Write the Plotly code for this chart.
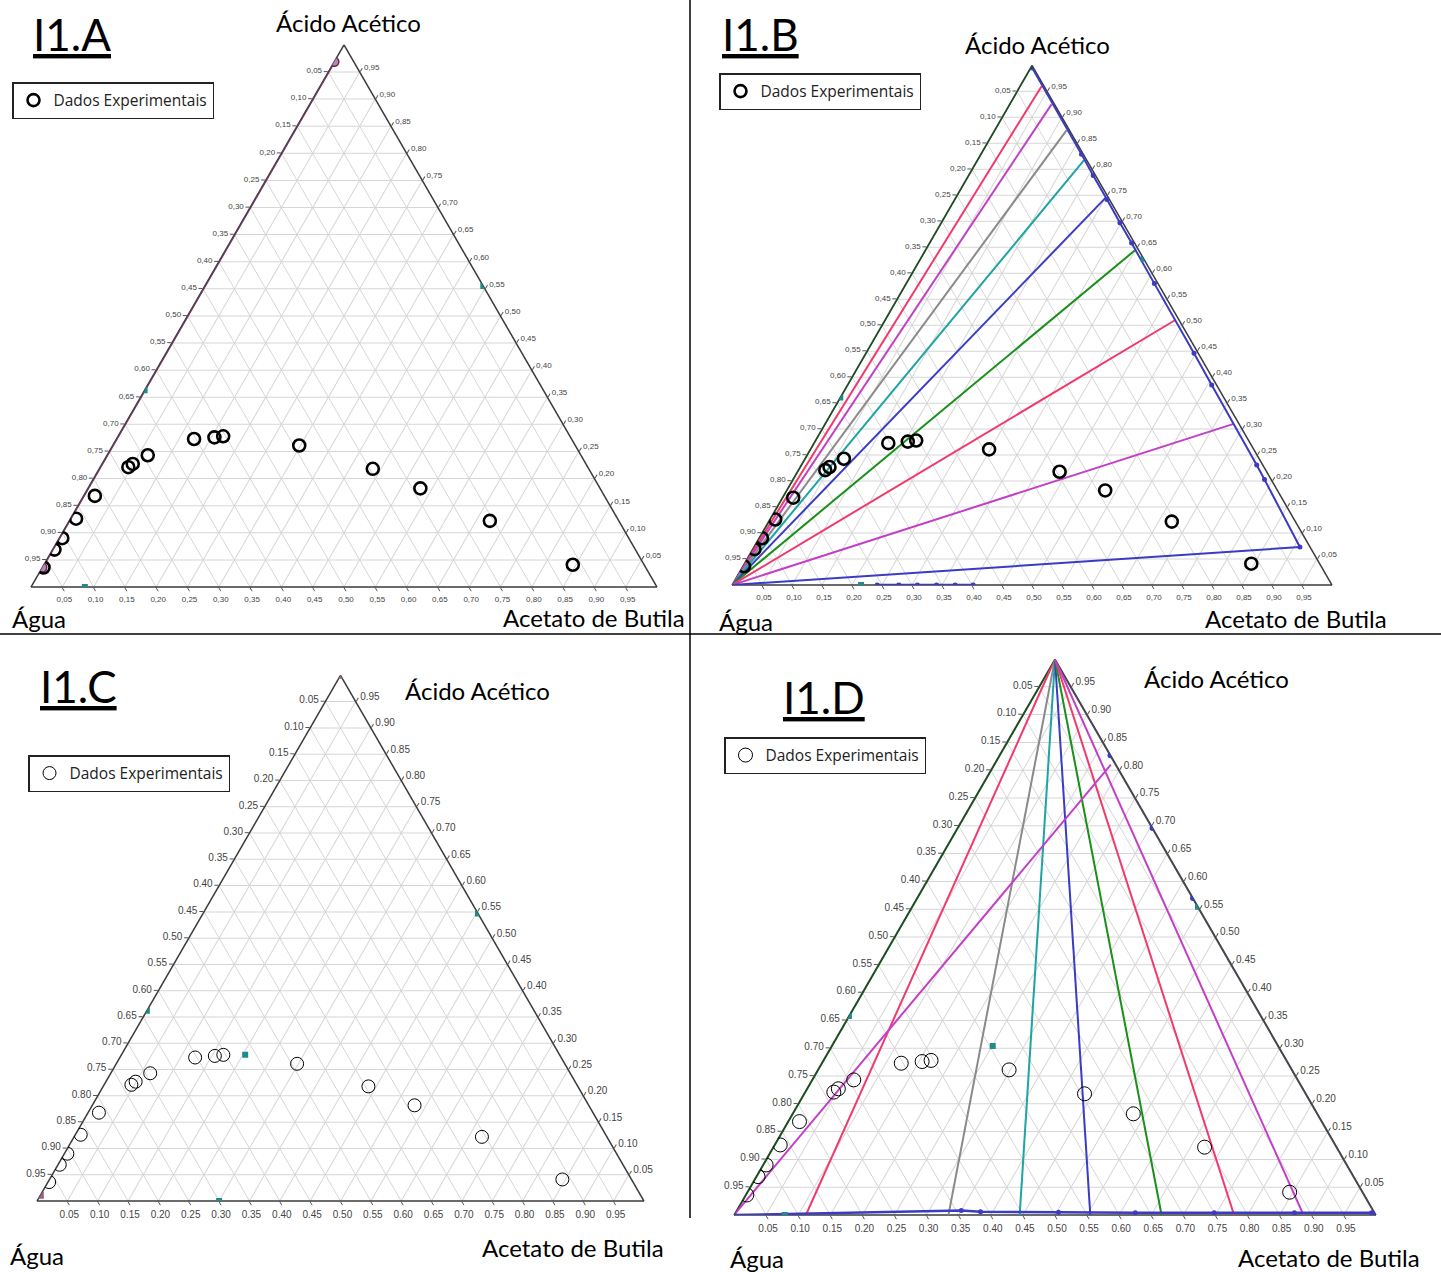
import plotly.graph_objects as go

W, H = 1441, 1272

# Experimental liquid-liquid equilibrium points (mass fractions)
exp_acido = [0.036, 0.069, 0.090, 0.126, 0.168, 0.221, 0.227, 0.243, 0.273, 0.276,
             0.278, 0.261, 0.218, 0.182, 0.122, 0.041]
exp_agua = [0.962, 0.928, 0.905, 0.865, 0.814, 0.734, 0.724, 0.692, 0.603, 0.569,
            0.554, 0.441, 0.345, 0.287, 0.206, 0.114]
exp_acetato = [0.002, 0.003, 0.005, 0.009, 0.018, 0.045, 0.049, 0.065, 0.124, 0.155,
               0.168, 0.298, 0.437, 0.531, 0.672, 0.845]

# Axis ticks
tick_values = [0.05, 0.10, 0.15, 0.20, 0.25, 0.30, 0.35, 0.40, 0.45, 0.50,
               0.55, 0.60, 0.65, 0.70, 0.75, 0.80, 0.85, 0.90, 0.95]
tick_text_dot = ["0.95", "0.90", "0.85", "0.80", "0.75", "0.70", "0.65", "0.60", "0.55", "0.50",
                 "0.45", "0.40", "0.35", "0.30", "0.25", "0.20", "0.15", "0.10", "0.05"]
tick_text_comma = [t.replace(".", ",") for t in tick_text_dot]

# I1.A - curve along the water/acid edge
curveA_acido = [0.036, 0.969]
curveA_agua = [0.964, 0.031]
curveA_acetato = [0.0, 0.0]
# feed / reference squares
sqA_acido = [0.555, 0.363, 0.0]
sqA_agua = [0.0, 0.637, 0.914]
sqA_acetato = [0.445, 0.0, 0.086]

# I1.B - tie lines from the water corner
tieB_acido = [0.960, 0.925, 0.875, 0.817, 0.745, 0.645, 0.510, 0.310, 0.073]
tieB_agua = [0.004, 0.005, 0.005, 0.005, 0.005, 0.005, 0.006, 0.009, 0.017]
tieB_acetato = [0.036, 0.070, 0.120, 0.178, 0.250, 0.350, 0.484, 0.681, 0.910]
tieB_colors = ["#f03a6e", "#c23fc6", "#8a8a8a", "#1fa3a3", "#3b3bc4",
               "#1a8f1a", "#f03a6e", "#c23fc6", "#3b3bc4"]
orgB_acido = [0.995, 0.829, 0.788, 0.742, 0.697, 0.658, 0.580, 0.446, 0.385, 0.231, 0.203, 0.073]
orgB_agua = [0.002, 0.003, 0.004, 0.004, 0.005, 0.005, 0.006, 0.007, 0.008, 0.010, 0.011, 0.017]
orgB_acetato = [0.003, 0.168, 0.208, 0.254, 0.298, 0.337, 0.414, 0.547, 0.607, 0.759, 0.786, 0.910]
baseB_acido = [0.0, 0.0, 0.0, 0.0, 0.0, 0.0]
baseB_agua = [0.758, 0.722, 0.691, 0.659, 0.628, 0.598]
baseB_acetato = [0.242, 0.278, 0.309, 0.341, 0.372, 0.402]
sqB_acido = [0.361, 0.628, 0.0]
sqB_agua = [0.639, 0.0, 0.785]
sqB_acetato = [0.0, 0.372, 0.215]

# I1.C - reference squares
sqC_acido = [0.547, 0.362, 0.278, 0.0]
sqC_agua = [0.0, 0.638, 0.518, 0.700]
sqC_acetato = [0.453, 0.0, 0.204, 0.300]
cornerC_acido = [1.0, 0.011]
cornerC_agua = [0.0, 0.989]
cornerC_acetato = [0.0, 0.0]

# I1.D - lines from the acid corner to the base
tieD_acido = [0.0, 0.0, 0.0, 0.0, 0.0, 0.0, 0.0]
tieD_agua = [0.888, 0.666, 0.555, 0.445, 0.334, 0.221, 0.113]
tieD_acetato = [0.112, 0.334, 0.445, 0.555, 0.666, 0.779, 0.887]
tieD_colors = ["#f03a6e", "#8a8a8a", "#1fa3a3", "#3b3bc4", "#1a8f1a", "#f03a6e", "#c23fc6"]
diagD_acido = [0.0, 0.810]
diagD_agua = [1.0, 0.008]
diagD_acetato = [0.0, 0.182]
baseD_acido = [0.0, 0.008, 0.006, 0.005, 0.004, 0.004, 0.004, 0.004, 0.0]
baseD_agua = [1.0, 0.642, 0.613, 0.492, 0.373, 0.250, 0.125, 0.005, 0.0]
baseD_acetato = [0.0, 0.350, 0.381, 0.503, 0.623, 0.746, 0.871, 0.991, 1.0]
edgeD_acido = [0.827, 0.696, 0.570]
edgeD_agua = [0.0, 0.0, 0.0]
edgeD_acetato = [0.173, 0.304, 0.430]
sqD_acido = [0.5545, 0.358, 0.304, 0.0]
sqD_agua = [0.0, 0.642, 0.445, 0.921]
sqD_acetato = [0.4455, 0.0, 0.251, 0.079]

TEAL = "#1f8c8c"
SQ3 = 3 ** 0.5 / 2


def ternary(x0, bottom, w, labels, fs):
    h = w * SQ3
    ax = dict(tickmode="array", tickvals=tick_values, ticktext=labels,
              showgrid=True, gridcolor="#d6d6d6", gridwidth=1,
              showline=True, linecolor="#3a3a3a", linewidth=1.5,
              ticks="outside", ticklen=4, tickcolor="#555",
              tickfont=dict(family="Liberation Sans", size=fs, color="#444"),
              title=dict(text=""), min=0, layer="below traces")
    return dict(domain=dict(x=[x0 / W, (x0 + w) / W],
                            y=[1 - bottom / H, 1 - (bottom - h) / H]),
                sum=1, bgcolor="white", aaxis=ax, baxis=ax, caxis=ax)


fig = go.Figure()


def line(sub, a, b, c, color, width=2, mode="lines", marker=None):
    fig.add_trace(go.Scatterternary(a=a, b=b, c=c, mode=mode, subplot=sub,
                                    line=dict(color=color, width=width),
                                    marker=marker, showlegend=False, hoverinfo="skip"))


def squares(sub, a, b, c, color=TEAL, size=6):
    fig.add_trace(go.Scatterternary(a=a, b=b, c=c, mode="markers", subplot=sub,
                                    marker=dict(symbol="square", size=size, color=color),
                                    showlegend=False, hoverinfo="skip"))


def experimental(sub, legend, size, lw):
    fig.add_trace(go.Scatterternary(a=exp_acido, b=exp_agua, c=exp_acetato, mode="markers",
                                    subplot=sub, name="Dados Experimentais", legend=legend,
                                    marker=dict(symbol="circle-open", size=size, color="black",
                                                line=dict(width=lw, color="black"))))


# ---- I1.A
line("ternary", curveA_acido, curveA_agua, curveA_acetato, "#6e3a62", 2.5, "lines+markers",
     dict(symbol="circle", size=9, color="#b884b8", line=dict(width=1.5, color="#5a2a50")))
squares("ternary", sqA_acido, sqA_agua, sqA_acetato)
experimental("ternary", "legend", 12, 2.6)

# ---- I1.B
line("ternary2", [0.0, 1.0], [1.0, 0.0], [0.0, 0.0], "#0b5a12", 2)
for i in range(len(tieB_acido)):
    line("ternary2", [0.0, tieB_acido[i]], [1.0, tieB_agua[i]], [0.0, tieB_acetato[i]],
         tieB_colors[i], 2)
line("ternary2", orgB_acido, orgB_agua, orgB_acetato, "#3b3bc4", 2, "lines+markers",
     dict(size=5, color="#3b3bc4"))
line("ternary2", baseB_acido, baseB_agua, baseB_acetato, "#3b3bc4", 2.5, "lines+markers",
     dict(size=5, color="#3b3bc4"))
squares("ternary2", sqB_acido, sqB_agua, sqB_acetato)
squares("ternary2", [1.0], [0.0], [0.0], "#0b5a12", 6)
experimental("ternary2", "legend2", 12, 2.6)

# ---- I1.C
squares("ternary3", sqC_acido, sqC_agua, sqC_acetato)
squares("ternary3", cornerC_acido, cornerC_agua, cornerC_acetato, "#9a6080", 7)
experimental("ternary3", "legend3", 13, 1)

# ---- I1.D
line("ternary4", [1.0, 0.0], [0.0, 1.0], [0.0, 0.0], "#0b5a12", 2.5)
line("ternary4", [1.0, 0.0], [0.0, 0.0], [0.0, 1.0], "#4a4a58", 2.5)
for i in range(len(tieD_acetato)):
    line("ternary4", [1.0, tieD_acido[i]], [0.0, tieD_agua[i]], [0.0, tieD_acetato[i]],
         tieD_colors[i], 2)
line("ternary4", diagD_acido, diagD_agua, diagD_acetato, "#c23fc6", 2)
line("ternary4", baseD_acido, baseD_agua, baseD_acetato, "#3b3bc4", 2.5, "lines+markers",
     dict(size=5, color="#3b3bc4"))
line("ternary4", edgeD_acido, edgeD_agua, edgeD_acetato, "#3b3bc4", 0, "markers",
     dict(size=6, color="#3b3bc4"))
squares("ternary4", sqD_acido, sqD_agua, sqD_acetato)
experimental("ternary4", "legend4", 14, 1)

# ---- text
annotations = []


def text(s, x, y, size, xanchor):
    annotations.append(dict(text=s, x=x / W, y=1 - y / H, xref="paper", yref="paper",
                            xanchor=xanchor, yanchor="middle", showarrow=False,
                            font=dict(family="Lato", size=size, color="black")))


for name, x, y in [("I1.A", 31, 34), ("I1.B", 720, 34), ("I1.C", 38, 686), ("I1.D", 781, 697)]:
    text("<u>" + name + "</u>", x, y, 44, "left")

text("Ácido Acético", 348, 22, 24, "center")
text("Ácido Acético", 1037, 45, 24, "center")
text("Ácido Acético", 477, 690, 24, "center")
text("Ácido Acético", 1216, 678, 24, "center")
text("Água", 10, 618, 24, "left")
text("Água", 717, 621, 24, "left")
text("Água", 8, 1255, 24, "left")
text("Água", 728, 1258, 24, "left")
text("Acetato de Butila", 687, 617, 24, "right")
text("Acetato de Butila", 1389, 618, 24, "right")
text("Acetato de Butila", 666, 1247, 24, "right")
text("Acetato de Butila", 1422, 1257, 24, "right")


def legend_box(x, y):
    return dict(x=x / W, y=1 - y / H, xanchor="left", yanchor="top",
                bgcolor="white", bordercolor="#222", borderwidth=1.5,
                font=dict(family="Open Sans", size=15.5, color="#222"))


fig.update_layout(
    width=W, height=H, autosize=False,
    margin=dict(l=0, r=0, t=0, b=0),
    paper_bgcolor="white", plot_bgcolor="white",
    ternary=ternary(31, 587, 626, tick_text_comma, 8),
    ternary2=ternary(732, 585, 600, tick_text_comma, 8),
    ternary3=ternary(37, 1201, 607, tick_text_dot, 10),
    ternary4=ternary(734, 1215, 642, tick_text_dot, 10),
    legend=legend_box(12, 82),
    legend2=legend_box(719, 73),
    legend3=legend_box(28, 755),
    legend4=legend_box(724, 737),
    annotations=annotations,
    shapes=[
        dict(type="line", xref="paper", yref="paper", x0=690 / W, x1=690 / W,
             y0=1, y1=1 - 1218 / H, line=dict(color="black", width=1.5)),
        dict(type="line", xref="paper", yref="paper", x0=0, x1=1,
             y0=1 - 634 / H, y1=1 - 634 / H, line=dict(color="black", width=1.5)),
    ],
)

fig.write_html("out.html")
